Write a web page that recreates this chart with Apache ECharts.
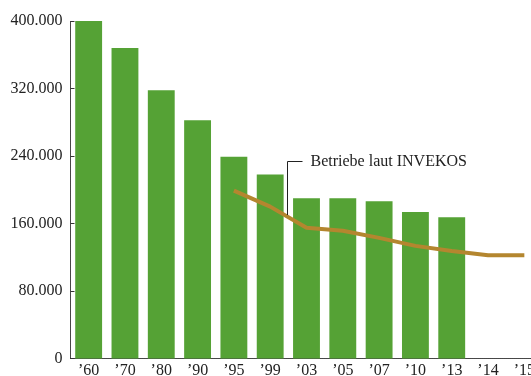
<!DOCTYPE html>
<html><head><meta charset="utf-8">
<script src="https://cdn.jsdelivr.net/npm/echarts@6/dist/echarts.min.js"></script>
<style>html,body{margin:0;padding:0;background:#fff}#c{width:531px;height:376px}</style>
</head><body><div id="c"></div>
<script>
const categories = ["’60","’70","’80","’90","’95","’99","’03","’05","’07","’10","’13","’14","’15"];
const betriebe = [402000, 368000, 318000, 282500, 239000, 218000, 190000, 190000, 186500, 173500, 167500, null, null];
const invekos = [null, null, null, null, 199000, 180000, 155000, 151500, 143000, 133500, 127500, 122500, 122500];
const yTicks = [0, 80000, 160000, 240000, 320000, 400000];
const annotationText = "Betriebe laut INVEKOS";

const font = "'Liberation Serif', 'DejaVu Serif', serif";
const chart = echarts.init(document.getElementById('c'), null, {renderer:'canvas'});
chart.setOption({
  animation:false,
  grid:{left:70.5, width:472, top:21, bottom:17.5, containLabel:false, outerBoundsMode:'none'},
  xAxis:{type:'category', data:categories, boundaryGap:true,
    axisLine:{show:true, lineStyle:{color:'#333', type:'dotted', width:1}},
    axisTick:{show:false},
    axisLabel:{fontFamily:font, fontSize:16, color:'#222', margin:4}},
  yAxis:{type:'value', min:yTicks[0], max:yTicks[yTicks.length-1], interval:yTicks[1]-yTicks[0],
    axisLine:{show:true, lineStyle:{color:'#333', type:'dotted', width:1}},
    axisTick:{show:true, inside:true, length:4, lineStyle:{color:'#333'}},
    splitLine:{show:false},
    axisLabel:{fontFamily:font, fontSize:16, color:'#222', margin:8,
      formatter:v=>v===0?'0':(v/1000).toFixed(0)+'.000'}},
  series:[
    {type:'bar', data:betriebe, barCategoryGap:'26%', itemStyle:{color:'#55a235'}, z:2},
    {type:'line', data:invekos, symbol:'none', connectNulls:false, lineStyle:{color:'#b4862f', width:4}, z:3}
  ]
});
const p99 = chart.convertToPixel({xAxisIndex:0}, 5);
const p03 = chart.convertToPixel({xAxisIndex:0}, 6);
const lx = Math.round(p99 + (p03-p99)*0.45) + 0.5;
const ty = 161.5;
const by = chart.convertToPixel({yAxisIndex:0}, 170000);
chart.setOption({graphic:[
  {type:'polyline', shape:{points:[[lx, by],[lx, ty],[lx+15, ty]]}, style:{stroke:'#222', lineWidth:1, fill:null}, z:10},
  {type:'text', x:lx+23, y:ty, style:{text:annotationText, font:'16px '+font, fill:'#222', textVerticalAlign:'middle', verticalAlign:'middle'}, z:10}
]});
</script></body></html>
